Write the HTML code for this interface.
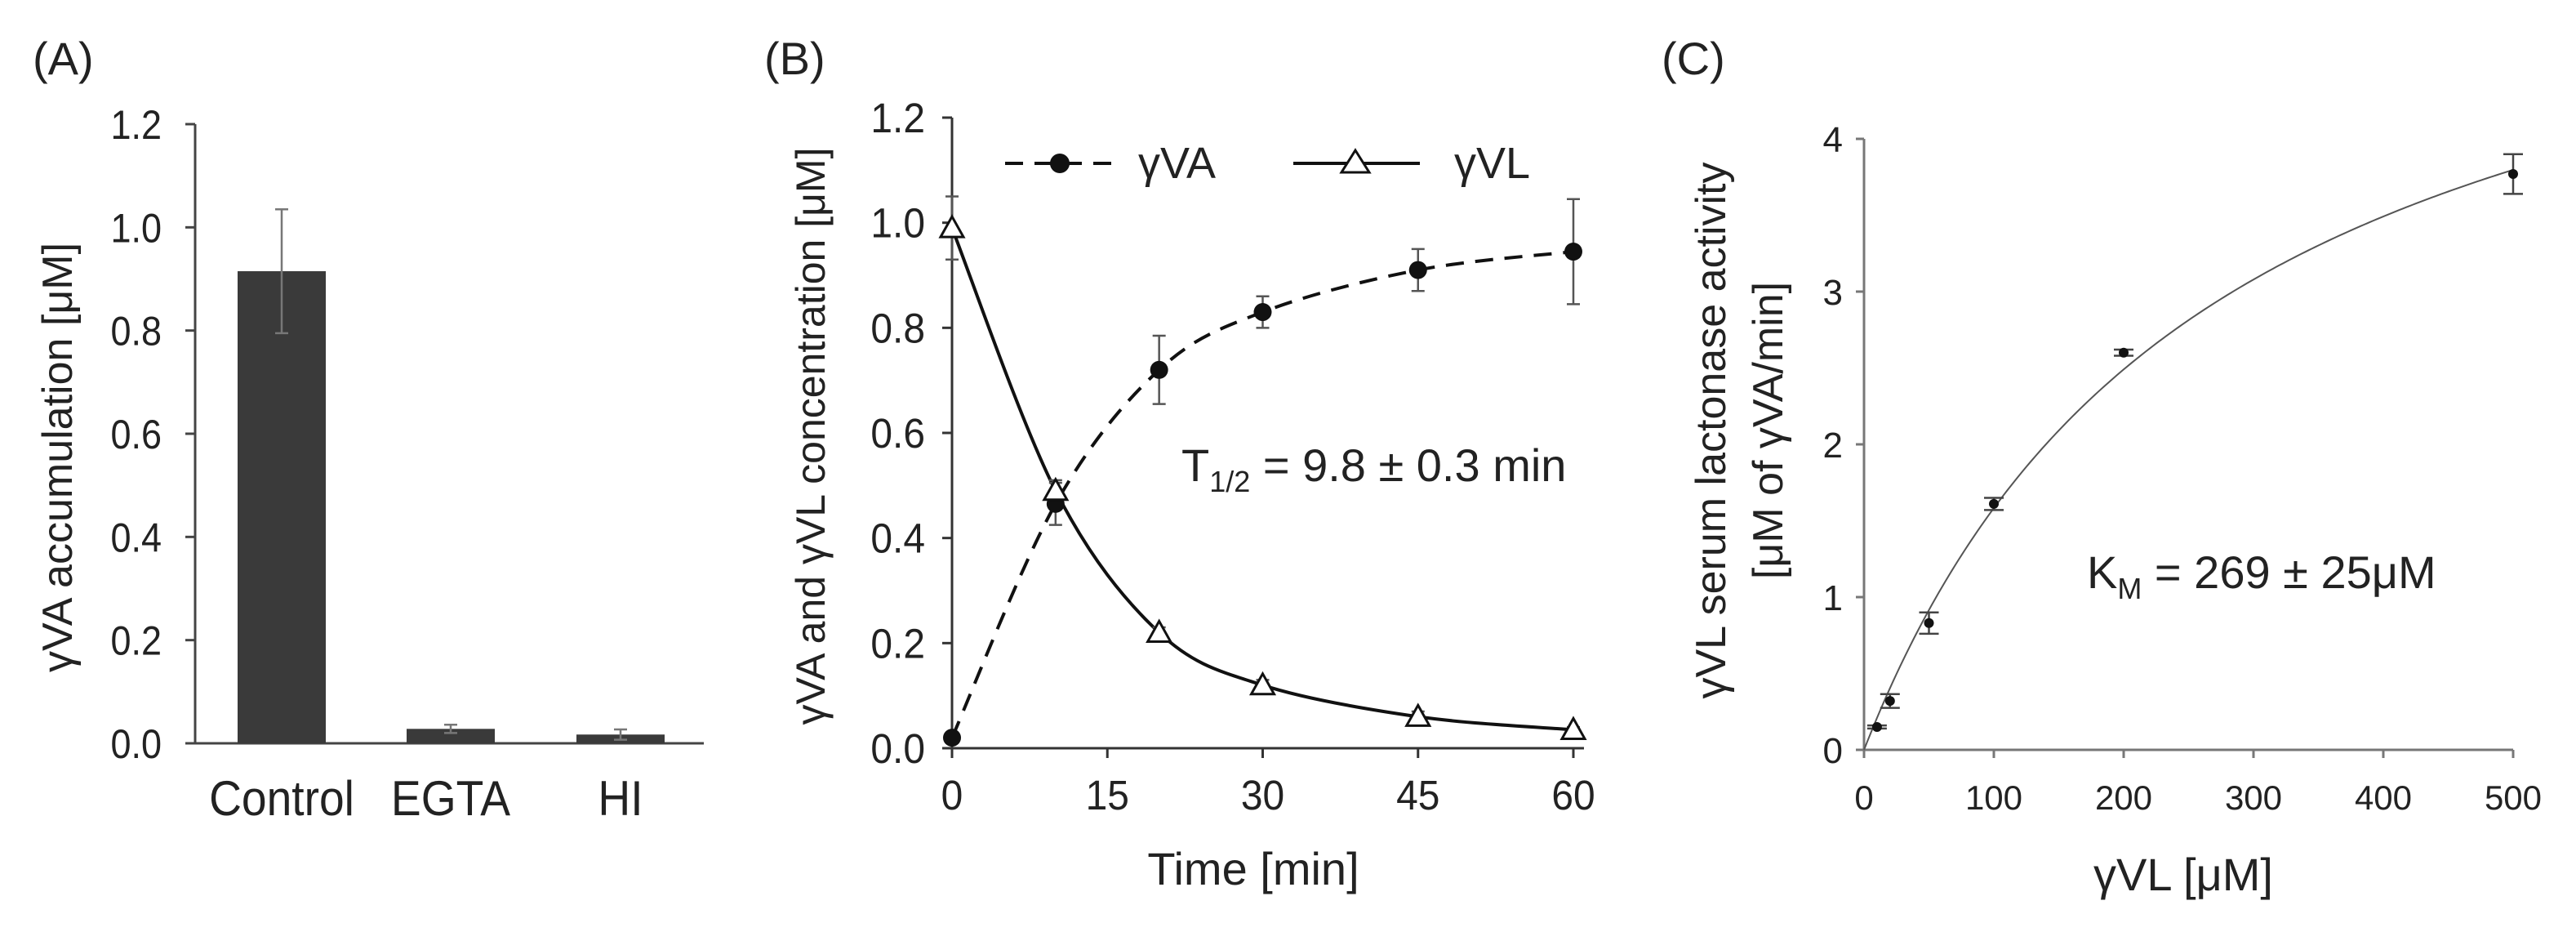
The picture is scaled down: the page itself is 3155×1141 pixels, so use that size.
<!DOCTYPE html>
<html><head><meta charset="utf-8"><style>
html,body{margin:0;padding:0;background:#fff;}
svg{display:block;font-family:"Liberation Sans",Arial,sans-serif;fill:#222;}
</style></head><body>
<svg id="fig" width="3155" height="1141" viewBox="0 0 3155 1141" xmlns="http://www.w3.org/2000/svg">
<g id="pa"></g>
<g id="pb"></g>
<g id="pc"></g>
</svg>
<script>
// Panel A data
const aCategories = ["Control","EGTA","HI"];
const aValues = [0.915, 0.028, 0.017];
const aErrors = [0.12, 0.008, 0.01];
const aTicks = [0,0.2,0.4,0.6,0.8,1.0,1.2];
// Panel B data
const bTimes = [0,10,20,30,45,60];
const bVA = [0.02,0.465,0.72,0.83,0.91,0.945];
const bVAerr = [0.005,0.04,0.065,0.03,0.04,0.1];
const bVL = [0.99,0.49,0.22,0.12,0.06,0.035];
const bVLerr = [0.06,0.02,0.01,0.01,0.01,0.005];
const bXTicks = [0,15,30,45,60];
const bYTicks = [0,0.2,0.4,0.6,0.8,1.0,1.2];
// Panel C data
const cConc = [10,20,50,100,200,500];
const cRate = [0.15,0.32,0.83,1.61,2.6,3.77];
const cErr = [0.01,0.045,0.07,0.04,0.02,0.13];
const cXTicks = [0,100,200,300,400,500];
const cYTicks = [0,1,2,3,4];
const cVmax = [5.84];
const cKm = [269];

const NS="http://www.w3.org/2000/svg";
function mk(parent,tag,attrs,text){const e=document.createElementNS(NS,tag);for(const k in attrs)e.setAttribute(k,attrs[k]);if(text!==undefined)e.textContent=text;parent.appendChild(e);return e;}
function spline(pts){let d=`M${pts[0][0]},${pts[0][1]}`;for(let i=0;i<pts.length-1;i++){const p0=pts[Math.max(i-1,0)],p1=pts[i],p2=pts[i+1],p3=pts[Math.min(i+2,pts.length-1)];const c1=[p1[0]+(p2[0]-p0[0])/6,p1[1]+(p2[1]-p0[1])/6],c2=[p2[0]-(p3[0]-p1[0])/6,p2[1]-(p3[1]-p1[1])/6];d+=` C${c1[0]},${c1[1]} ${c2[0]},${c2[1]} ${p2[0]},${p2[1]}`;}return d;}

// ---------- Panel A ----------
(function(){
const g=document.getElementById('pa');
const x0=239,x1=862,y0=910,yTop=152;
const ys=v=>y0-(v/1.2)*(y0-yTop);
let t=mk(g,'text',{x:40,y:91,'font-size':56});t.textContent='(A)';

let ax=mk(g,'path',{d:`M${x0},${yTop} V${y0} H${x1}`,stroke:'#444','stroke-width':3,fill:'none'});

aTicks.forEach(v=>{const y=ys(v);mk(g,'line',{x1:x0-12,x2:x0,y1:y,y2:y,stroke:'#444','stroke-width':3});
const l=mk(g,'text',{transform:`translate(198,${y+18}) scale(0.9,1)`,'text-anchor':'end','font-size':50},v.toFixed(1));
});
const centers=[345,552,760],bw=108;
aCategories.forEach((c,i)=>{const top=ys(aValues[i]);
const r=mk(g,'rect',{x:centers[i]-bw/2,y:top,width:bw,height:y0-top,fill:'#3a3a3a'});

const yt=ys(aValues[i]+aErrors[i]),yb=ys(aValues[i]-aErrors[i]);
mk(g,'path',{d:`M${centers[i]},${yt}V${yb}M${centers[i]-8},${yt}h16M${centers[i]-8},${yb}h16`,stroke:'#777','stroke-width':2.5,fill:'none'});
const l=mk(g,'text',{transform:`translate(${centers[i]},998) scale(0.92,1)`,'text-anchor':'middle','font-size':60},c);
});
t=mk(g,'text',{transform:'translate(88,560) rotate(-90)','text-anchor':'middle','font-size':52},'γVA accumulation [μM]');

})();

// ---------- Panel B ----------
(function(){
const g=document.getElementById('pb');
const x0=1166,xEnd=1940,y0=916,yTop=144;
const xs=v=>x0+v/60*(1927-x0), ys=v=>y0-(v/1.2)*(y0-yTop);
let t=mk(g,'text',{x:936,y:91,'font-size':56},'(B)');

let ax=mk(g,'path',{d:`M${x0},${yTop} V${y0} H${xEnd}`,stroke:'#333','stroke-width':3,fill:'none'});

bYTicks.forEach(v=>{const y=ys(v);mk(g,'line',{x1:x0-12,x2:x0,y1:y,y2:y,stroke:'#333','stroke-width':3});
const l=mk(g,'text',{transform:`translate(1133,${y+18}) scale(0.94,1)`,'text-anchor':'end','font-size':51},v.toFixed(1));
});
bXTicks.forEach(v=>{const x=xs(v);mk(g,'line',{x1:x,x2:x,y1:y0,y2:y0+12,stroke:'#333','stroke-width':3});
const l=mk(g,'text',{transform:`translate(${x},991) scale(0.94,1)`,'text-anchor':'middle','font-size':51},String(v));
});
const va=bTimes.map((tt,i)=>[xs(tt),ys(bVA[i])]), vl=bTimes.map((tt,i)=>[xs(tt),ys(bVL[i])]);
let p=mk(g,'path',{d:spline(va),stroke:'#111','stroke-width':4,fill:'none','stroke-dasharray':'22 14'});

p=mk(g,'path',{d:spline(vl),stroke:'#111','stroke-width':4,fill:'none'});

bTimes.forEach((tt,i)=>{const x=xs(tt);
let yt=ys(bVA[i]+bVAerr[i]),yb=ys(bVA[i]-bVAerr[i]);
mk(g,'path',{d:`M${x},${yt}V${yb}M${x-8},${yt}h16M${x-8},${yb}h16`,stroke:'#555','stroke-width':2.5,fill:'none'});
yt=ys(bVL[i]+bVLerr[i]);yb=ys(bVL[i]-bVLerr[i]);
mk(g,'path',{d:`M${x},${yt}V${yb}M${x-8},${yt}h16M${x-8},${yb}h16`,stroke:'#555','stroke-width':2.5,fill:'none'});
const c=mk(g,'circle',{cx:x,cy:ys(bVA[i]),r:11,fill:'#111'});

const y=ys(bVL[i]);
const tr=mk(g,'path',{d:`M${x},${y-14}L${x+14},${y+11}L${x-14},${y+11}Z`,fill:'#fff',stroke:'#111','stroke-width':3});
});
// legend
const lg=mk(g,'g',{});
mk(lg,'line',{x1:1231,x2:1366,y1:200,y2:200,stroke:'#111','stroke-width':4,'stroke-dasharray':'22 14'});
mk(lg,'circle',{cx:1298,cy:200,r:12,fill:'#111'});
t=mk(lg,'text',{x:1394,y:218,'font-size':54},'γVA');
mk(lg,'line',{x1:1584,x2:1739,y1:200,y2:200,stroke:'#111','stroke-width':4});
mk(lg,'path',{d:'M1660,184L1677,211L1643,211Z',fill:'#fff',stroke:'#111','stroke-width':3});
t=mk(lg,'text',{x:1781,y:218,'font-size':54},'γVL');
t=mk(g,'text',{x:1447,y:589,'font-size':56});
t.innerHTML='T<tspan font-size="36" dy="13">1/2</tspan><tspan dy="-13"> = 9.8 ± 0.3 min</tspan>';

t=mk(g,'text',{x:1535,y:1083,'text-anchor':'middle','font-size':56},'Time [min]');

t=mk(g,'text',{transform:'translate(1010,534) rotate(-90)','text-anchor':'middle','font-size':50},'γVA and γVL concentration [μM]');

})();

// ---------- Panel C ----------
(function(){
const g=document.getElementById('pc');
const x0=2283,xEnd=3078,y0=918,yTop=170;
const xs=v=>x0+v/500*(xEnd-x0), ys=v=>y0-(v/4)*(y0-yTop);
let t=mk(g,'text',{x:2035,y:91,'font-size':56},'(C)');

let ax=mk(g,'path',{d:`M${x0},${yTop} V${y0} H${xEnd}`,stroke:'#777','stroke-width':3,fill:'none'});

cYTicks.forEach(v=>{const y=ys(v);mk(g,'line',{x1:x0-10,x2:x0,y1:y,y2:y,stroke:'#777','stroke-width':3});
const l=mk(g,'text',{x:2257,y:y+16,'text-anchor':'end','font-size':44},String(v));
});
cXTicks.forEach(v=>{const x=xs(v);mk(g,'line',{x1:x,x2:x,y1:y0,y2:y0+10,stroke:'#777','stroke-width':3});
const l=mk(g,'text',{x:x,y:991,'text-anchor':'middle','font-size':42},String(v));
});
let d='';for(let i=0;i<=200;i++){const c=i*500/200;const v=cVmax[0]*c/(cKm[0]+c);d+=(i?'L':'M')+xs(c)+','+ys(v);}
let p=mk(g,'path',{d:d,stroke:'#555','stroke-width':2,fill:'none'});

cConc.forEach((c,i)=>{const x=xs(c);const yt=ys(cRate[i]+cErr[i]),yb=ys(cRate[i]-cErr[i]);
mk(g,'path',{d:`M${x},${yt}V${yb}M${x-12},${yt}h24M${x-12},${yb}h24`,stroke:'#444','stroke-width':2.5,fill:'none'});
const pt=mk(g,'circle',{cx:x,cy:ys(cRate[i]),r:6,fill:'#111'});
});
t=mk(g,'text',{x:2556,y:720,'font-size':56});
t.innerHTML='K<tspan font-size="36" dy="13">M</tspan><tspan dy="-13"> = 269 ± 25μM</tspan>';

t=mk(g,'text',{x:2674,y:1090,'text-anchor':'middle','font-size':56},'γVL [μM]');

t=mk(g,'text',{transform:'translate(2113,527) rotate(-90)','text-anchor':'middle','font-size':52},'γVL serum lactonase activity');

t=mk(g,'text',{transform:'translate(2183,527) rotate(-90)','text-anchor':'middle','font-size':52},'[μM of γVA/min]');

})();
</script>
</body></html>
